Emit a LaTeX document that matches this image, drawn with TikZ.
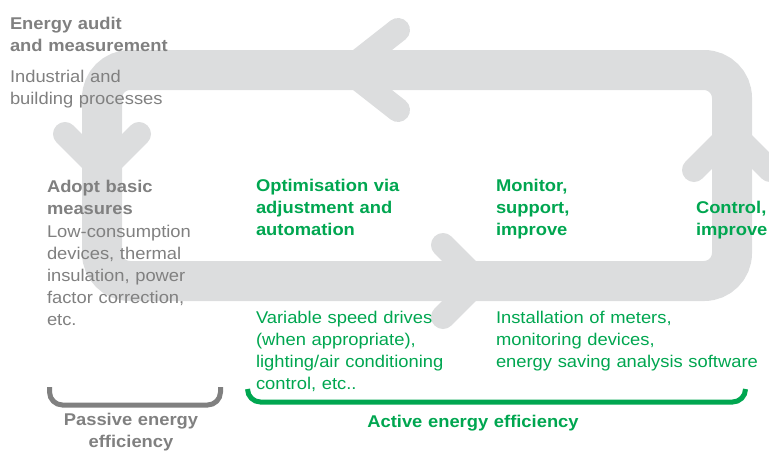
\documentclass[tikz,border=0pt]{standalone}
\usepackage{fontspec}
\setmainfont{Liberation Sans}[FakeStretch=1.08]
\definecolor{bargray}{HTML}{DCDDDE}
\definecolor{txtgray}{HTML}{808080}
\definecolor{sgreen}{HTML}{00A650}
\begin{document}
\begin{tikzpicture}[x=1pt,y=-1pt,
  txt/.style={inner sep=0pt, outer sep=0pt, font=\fontsize{17}{22}\selectfont,
    text width=320pt, align=left, anchor=base west},
  ttl/.style={txt, font=\fontsize{17}{22}\selectfont\bfseries},
  grayt/.style={text=txtgray},
  greent/.style={text=sgreen},
  ctr/.style={align=center, anchor=base, text width=300pt},
  loopbar/.style={draw=bargray, line width=40pt, rounded corners=28pt},
  chev/.style={draw=bargray, line width=24pt, line cap=round, line join=round},
  brace/.style={line width=5pt, rounded corners=13pt, line cap=butt}]
\useasboundingbox (0,0) rectangle (769,451);
\clip (0,0) rectangle (769,451);

% loop
\draw[loopbar] (102,70) -- (732,70) -- (732,281) -- (102,281) -- cycle;
% chevron arrowheads
\draw[chev] (398,30) -- (347,70) -- (398,110);
\draw[chev] (65,134) -- (102,171) -- (139,134);
\draw[chev] (443,245) -- (479,281) -- (443,317);
\draw[chev] (694,170) -- (732,132) -- (770,170);

% braces
\draw[brace, draw=txtgray] (49.5,387) -- (49.5,405) -- (220.5,405) -- (220.5,387);
\draw[brace, draw=sgreen] (247.5,389) -- (247.5,402) -- (745.5,402) -- (745.5,389);

% texts
\node[ttl, grayt] (audit) at (10,29) {Energy audit\\and measurement};
\node[txt, grayt] (auditd) at (10,82) {Industrial and\\building processes};
\node[ttl, grayt] (basic) at (47,192) {Adopt basic\\measures};
\node[txt, grayt] (basicd) at (47,237) {Low-consumption\\devices, thermal\\insulation, power\\factor correction,\\etc.};
\node[ttl, greent] (optim) at (256,191) {Optimisation via\\adjustment and\\automation};
\node[txt, greent] (optimd) at (256,323) {Variable speed drives\\(when appropriate),\\lighting/air conditioning\\control, etc..};
\node[ttl, greent] (monit) at (496,191) {Monitor,\\support,\\improve};
\node[txt, greent] (monitd) at (496,323) {Installation of meters,\\monitoring devices,\\energy saving analysis software};
\node[ttl, greent] (control) at (696,213) {Control,\\improve};
\node[ttl, grayt, ctr] (passive) at (131,425) {Passive energy\\efficiency};
\node[ttl, greent, ctr] (active) at (473,427) {Active energy efficiency};
\end{tikzpicture}
\end{document}
